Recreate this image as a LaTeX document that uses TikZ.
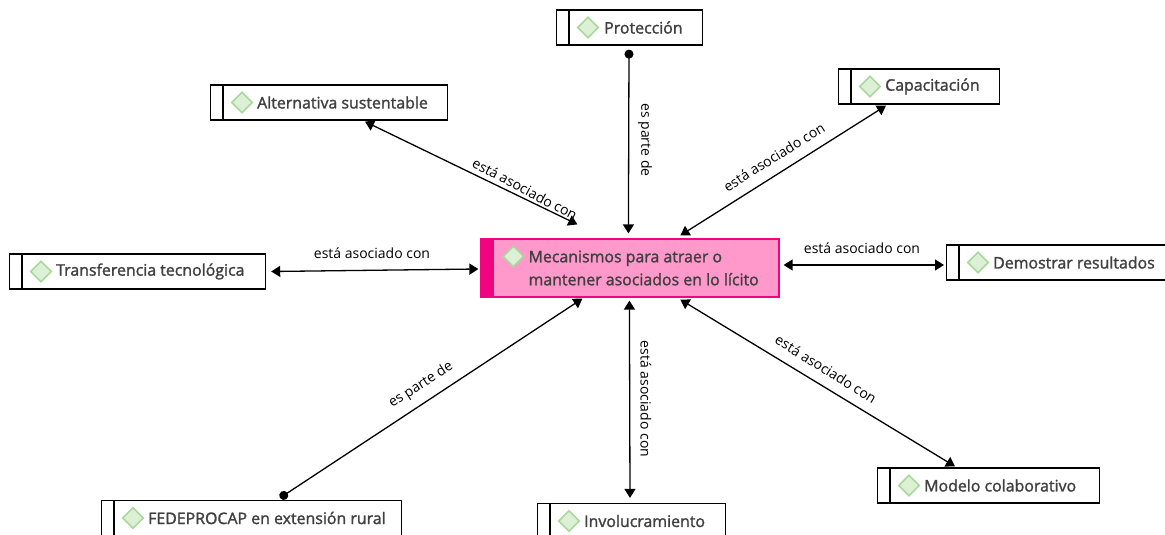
\documentclass[tikz,border=0pt]{standalone}
\usepackage{fontspec}
\setmainfont{Open Sans}
\newfontfamily\semifont{Open Sans}[FakeBold=1.6]
\usetikzlibrary{calc,arrows.meta,shapes.geometric}
\definecolor{txt}{HTML}{404040}
\definecolor{dfill}{HTML}{DDF0D5}
\definecolor{dline}{HTML}{A9D89B}
\definecolor{pinkfill}{HTML}{FF99CC}
\definecolor{pinkbar}{HTML}{F0047F}
\tikzset{
  conceptbox/.style={draw=black,line width=1.2pt,rectangle,anchor=west,inner sep=0pt,minimum height=35pt},
  mainbox/.style={draw=pinkbar,line width=1.2pt,fill=pinkfill,rectangle,inner sep=0pt,
     minimum width=298pt,minimum height=58pt},
  conceptext/.style={anchor=west,inner sep=0pt,text=txt,font=\fontsize{15.9}{18}\selectfont\semifont},
  maintext/.style={anchor=north west,inner sep=0pt,text=txt,align=left,font=\fontsize{15.9}{23}\selectfont\semifont},
  linklabel/.style={font=\fontsize{14}{15}\selectfont,text=black,inner sep=0pt},
  gem/.style={diamond,draw=dline,fill=dfill,line width=1.6pt,inner sep=0pt,minimum width=21pt,minimum height=21pt},
  divider/.style={draw=black,line width=1.2pt},
  both/.style={draw=black,line width=1.3pt,{Triangle[width=11pt,length=9pt]}-{Triangle[width=11pt,length=9pt]}},
  dotarrow/.style={draw=black,line width=1.3pt,{Circle[length=9pt]}-{Triangle[width=11pt,length=9pt]}}
}
\newcommand{\conceptnode}[6]{% name, x1, x2, ymid, textstart offset, text
  \pgfmathsetmacro{\wid}{#3-#2}
  \node[conceptbox,minimum width=\wid pt] (#1) at (#2,#4) {};
  \draw[divider] ($(#1.north west)+(13,0)$) -- ($(#1.south west)+(13,0)$);
  \node[gem] (#1gem) at ($(#1.west)+(32,0)$) {};
  \node[conceptext] (#1txt) at ($(#1.west)+(#5,0)$) {#6};
}
\begin{document}
\begin{tikzpicture}[x=1pt,y=-1pt]
\useasboundingbox (0,0) rectangle (1165,535);
\conceptnode{prot}{556}{702}{27.5}{48}{Protección}
\conceptnode{alt}{210}{447}{102.5}{47}{Alternativa sustentable}
\conceptnode{cap}{838}{999}{86.5}{47}{Capacitación}
\conceptnode{tra}{9}{265}{271.5}{47}{Transferencia tecnológica}
\conceptnode{dem}{946}{1172}{262.5}{47}{Demostrar resultados}
\conceptnode{fed}{101}{401}{518}{47}{FEDEPROCAP en extensión rural}
\conceptnode{inv}{537}{725}{521}{47}{Involucramiento}
\conceptnode{mod}{877}{1099}{485.5}{47}{Modelo colaborativo}
\node[mainbox] (main) at (630,268) {};
\fill[pinkbar] (main.north west) rectangle ($(main.south west)+(14,0)$);
\node[gem] (maingem) at ($(main.north west)+(33,18)$) {};
\node[maintext] (maintxt) at ($(main.north west)+(48,12)$) {Mecanismos para atraer o\\mantener asociados en lo lícito};

\draw[dotarrow] ($(prot.south west)+(73,4)$) -- ($(main.north west)+(148,-5)$);
\draw[both] ($(alt.south west)+(155,1)$) -- ($(main.north west)+(97,-14)$);
\draw[both] ($(cap.south west)+(48,1)$) -- ($(main.north west)+(200,-3)$);
\draw[both] ($(tra.east)+(5,0)$) -- ($(main.west)+(-2,1)$);
\draw[both] ($(main.east)+(4,-3)$) -- ($(dem.west)+(-2,2.5)$);
\draw[dotarrow] ($(fed.north west)+(179,-2)$) -- ($(main.south west)+(102,1)$);
\draw[both] ($(main.south west)+(149,3)$) -- ($(inv.north west)+(93,-5)$);
\draw[both] ($(main.south west)+(200,2)$) -- ($(mod.north west)+(78,-1)$);

\node[linklabel,rotate=-28] (l1) at (525,189) {está asociado con};
\node[linklabel,rotate=-90] (l2) at (645,140) {es parte de};
\node[linklabel,rotate=32] (l3) at (774,157) {está asociado con};
\node[linklabel] (l4) at (372,253) {está asociado con};
\node[linklabel] (l5) at (862,248) {está asociado con};
\node[linklabel,rotate=33] (l6) at (421,385) {es parte de};
\node[linklabel,rotate=-90] (l7) at (646,399) {está asociado con};
\node[linklabel,rotate=-32] (l8) at (826,369) {está asociado con};
\end{tikzpicture}
\end{document}
